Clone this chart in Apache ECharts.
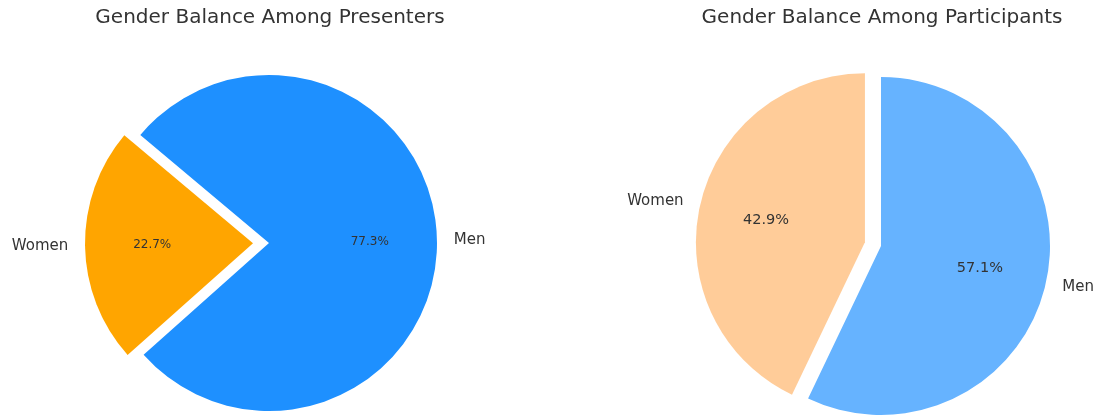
<!DOCTYPE html>
<html>
<head>
<meta charset="utf-8">
<script src="https://cdn.jsdelivr.net/npm/echarts@6/dist/echarts.min.js"></script>
<style>
  html, body { margin: 0; padding: 0; background: #fff; }
  #chart { width: 1094px; height: 416px; }
</style>
</head>
<body>
<div id="chart"></div>
<script>
var categories = ['Women', 'Men'];
var presenterShares = [22.7, 77.3];
var participantShares = [42.9, 57.1];
var chartTitles = ['Gender Balance Among Presenters', 'Gender Balance Among Participants'];

var FONT = 'DejaVu Sans';

// one pie = a visible series (slices + names outside) and a clear copy
// that only carries the percent text at 0.6 of the radius
function buildPie(center, r, startAngle, values, colors, offset, pctSize) {
    var items = function (clear) {
        return categories.map(function (c, i) {
            return {
                name: c,
                value: values[i],
                selected: i === 0,
                itemStyle: { color: clear ? 'rgba(0,0,0,0)' : colors[i] }
            };
        });
    };
    var common = {
        type: 'pie',
        center: center,
        startAngle: startAngle,
        clockwise: false,
        selectedMode: 'multiple',
        selectedOffset: offset,
        avoidLabelOverlap: false,
        silent: true,
        animation: false,
        percentPrecision: 1,
        emphasis: { disabled: true }
    };
    var main = Object.assign({}, common, {
        radius: r,
        label: {
            show: true, position: 'outside', formatter: '{b}',
            fontFamily: FONT, fontSize: 15, color: '#333', distanceToLabelLine: 0
        },
        labelLine: { show: false, length: 0.1 * r, length2: 0 },
        data: items(false)
    });
    var pct = Object.assign({}, common, {
        radius: 1.2 * r - 6,
        z: 3,
        label: {
            show: true, position: 'inside', formatter: '{d}%',
            fontFamily: FONT, fontSize: pctSize, color: '#333'
        },
        labelLine: { show: false },
        data: items(true)
    });
    return [main, pct];
}

var chart = echarts.init(document.getElementById('chart'));
chart.setOption({
    backgroundColor: '#fff',
    title: [
        { text: chartTitles[0], left: 270, top: 8, padding: 0, textAlign: 'center',
          textStyle: { fontFamily: FONT, fontSize: 20, fontWeight: 'normal', color: '#333' } },
        { text: chartTitles[1], left: 882, top: 8, padding: 0, textAlign: 'center',
          textStyle: { fontFamily: FONT, fontSize: 20, fontWeight: 'normal', color: '#333' } }
    ],
    series: []
        .concat(buildPie([269, 243], 168, 140, presenterShares, ['#FFA500', '#1E90FF'], 16, 12))
        .concat(buildPie([881, 246], 169, 90, participantShares, ['#FFCC99', '#66B3FF'], 16.5, 14.5))
});
</script>
</body>
</html>
